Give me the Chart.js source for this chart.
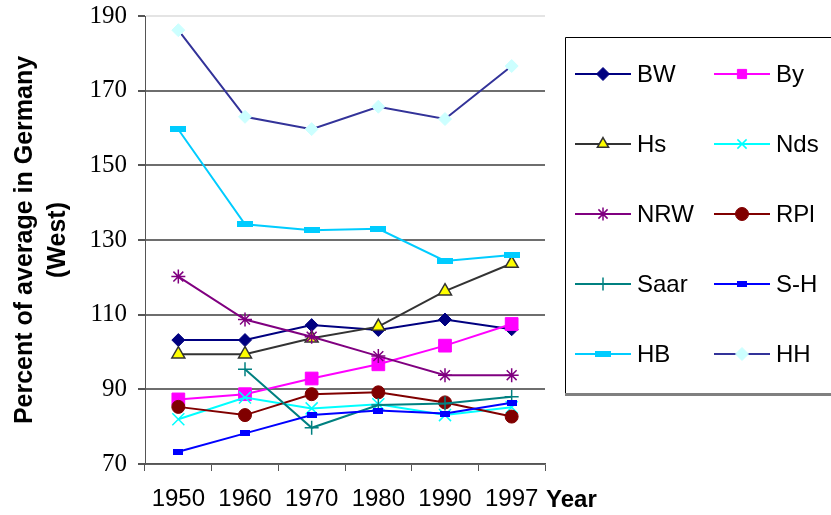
<!DOCTYPE html>
<html>
<head>
<meta charset="utf-8">
<script src="https://cdn.jsdelivr.net/npm/chart.js@4/dist/chart.umd.min.js"></script>
<style>
  html, body { margin: 0; padding: 0; background: #fff; }
  #wrap { width: 831px; height: 515px; position: relative; }
</style>
</head>
<body>
<div id="wrap"><canvas id="chart"></canvas></div>
<script>
// Daten (Prozent vom Durchschnitt, Westdeutschland)
const years = ['1950', '1960', '1970', '1980', '1990', '1997'];
const yTicks = [70, 90, 110, 130, 150, 170, 190];

const bw   = [103.2, 103.2, 107.2, 105.9, 108.7, 106.1];
const by   = [87.3, 88.7, 92.9, 96.7, 101.7, 107.5];
const hs   = [99.4, 99.4, 103.7, 106.8, 116.3, 123.7];
const nds  = [82.0, 87.8, 84.9, 86.0, 83.1, 85.2];
const nrw  = [120.2, 108.7, 104.1, 98.9, 93.8, 93.8];
const rpl  = [85.3, 83.1, 88.7, 89.2, 86.5, 82.7];
const saar = [null, 95.4, 79.7, 85.8, 86.2, 88.0];
const sh   = [73.3, 78.2, 83.1, 84.3, 83.5, 86.4];
const hb   = [159.6, 134.2, 132.6, 133.0, 124.4, 126.0];
const hh   = [186.2, 163.0, 159.7, 165.7, 162.4, 176.6];

// flache Rechteck-Marker (S-H, HB)
function barMarker(w, h, color) {
    const c = document.createElement('canvas');
    c.width = w;
    c.height = h;
    const g = c.getContext('2d');
    g.fillStyle = color;
    g.fillRect(0, 0, w, h);
    return c;
}

function series(label, data, line, style, radius, fill, border, bw) {
    return {
        label: label,
        data: data,
        borderColor: line,
        borderWidth: 2,
        tension: 0,
        pointStyle: style,
        pointRadius: radius,
        pointHoverRadius: radius,
        pointBackgroundColor: fill,
        pointBorderColor: border || fill,
        pointBorderWidth: bw || 1
    };
}

const datasets = [
    series('BW', bw, '#000080', 'rectRot', 6.5, '#000080'),
    series('By', by, '#FF00FF', 'rect', 9, '#FF00FF'),
    series('Hs', hs, '#333333', 'triangle', 7.5, '#FFFF00', '#333333', 1.5),
    series('Nds', nds, '#00FFFF', 'crossRot', 8.5, '#00FFFF', '#00FFFF', 1.5),
    series('NRW', nrw, '#800080', 'star', 7, '#800080', '#800080', 1.5),
    series('RPl', rpl, '#800000', 'circle', 6.5, '#800000'),
    series('Saar', saar, '#008080', 'cross', 7, '#008080', '#008080', 1.5),
    series('S-H', sh, '#0000FF', barMarker(10, 6, '#0000FF'), 5, '#0000FF'),
    series('HB', hb, '#00CCFF', barMarker(16, 6, '#00CCFF'), 8, '#00CCFF'),
    series('HH', hh, '#333399', 'rectRot', 6.5, '#CCFFFF')
];
// spätere Reihen oben zeichnen (wie Excel)
datasets.forEach(function(d, i) { d.order = datasets.length - i; });

// Legende im Kasten rechts + "Year" an der x-Achse
const boxLegend = {
    id: 'boxLegend',
    afterDraw: function(chart) {
        const ctx = chart.ctx;
        ctx.save();

        // Kasten
        ctx.strokeStyle = '#000';
        ctx.lineWidth = 1;
        ctx.beginPath();
        ctx.moveTo(565.5, 393);
        ctx.lineTo(565.5, 37.5);
        ctx.lineTo(831, 37.5);
        ctx.stroke();
        ctx.strokeStyle = '#808080';
        ctx.lineWidth = 3;
        ctx.beginPath();
        ctx.moveTo(565, 394.5);
        ctx.lineTo(831, 394.5);
        ctx.stroke();

        const ds = chart.data.datasets;
        const cols = [{ x0: 575, x1: 631, tx: 637 }, { x0: 714, x1: 770, tx: 776 }];
        ctx.font = '24px "Liberation Sans", Arial, sans-serif';
        ctx.textBaseline = 'middle';
        ctx.textAlign = 'left';
        for (let i = 0; i < ds.length; i++) {
            const col = cols[i % 2];
            const y = 74 + Math.floor(i / 2) * 70;
            const d = ds[i];
            ctx.strokeStyle = d.borderColor;
            ctx.lineWidth = 2;
            ctx.beginPath();
            ctx.moveTo(col.x0, y);
            ctx.lineTo(col.x1, y);
            ctx.stroke();

            ctx.fillStyle = d.pointBackgroundColor;
            ctx.strokeStyle = d.pointBorderColor;
            ctx.lineWidth = d.pointBorderWidth;
            Chart.helpers.drawPoint(ctx, {
                pointStyle: d.pointStyle,
                radius: Math.min(d.pointRadius, 6.5),
                rotation: 0,
                borderWidth: d.pointBorderWidth
            }, (col.x0 + col.x1) / 2, y);

            ctx.fillStyle = '#000';
            ctx.fillText(d.label, col.tx, y + 1);
        }

        ctx.font = 'bold 24px "Liberation Sans", Arial, sans-serif';
        ctx.fillStyle = '#000';
        ctx.fillText('Year', 546, 500);
        ctx.restore();
    }
};

new Chart(document.getElementById('chart'), {
    type: 'line',
    data: {
        labels: years,
        datasets: datasets
    },
    options: {
        responsive: true,
        maintainAspectRatio: false,
        animation: false,
        events: [],
        layout: {
            autoPadding: false,
            padding: { top: 16, right: 286, left: 0, bottom: 0 }
        },
        plugins: {
            legend: { display: false },
            tooltip: { enabled: false }
        },
        scales: {
            x: {
                type: 'category',
                offset: true,
                afterFit: function(scale) { scale.height = 51; },
                grid: {
                    offset: true,
                    drawOnChartArea: false,
                    drawTicks: true,
                    tickLength: 7,
                    color: '#555',
                    lineWidth: 1
                },
                border: { color: '#555', width: 1.5 },
                ticks: {
                    color: '#000',
                    padding: 14,
                    maxRotation: 0,
                    font: { family: '"Liberation Sans", Arial, sans-serif', size: 24 }
                }
            },
            y: {
                min: yTicks[0],
                max: yTicks[yTicks.length - 1],
                afterFit: function(scale) {
                    scale.width = 145;
                    scale.paddingTop = 0;
                    scale.paddingBottom = 0;
                },
                afterBuildTicks: function(scale) {
                    scale.ticks = yTicks.map(function(v) { return { value: v }; });
                },
                grid: {
                    color: function(c) {
                        return c.tick && c.tick.value === 190 ? '#e4e4e4' : '#6e6e6e';
                    },
                    tickColor: '#555',
                    lineWidth: 2,
                    tickLength: 7
                },
                border: { color: '#555', width: 1 },
                ticks: {
                    color: '#000',
                    padding: 11,
                    font: { family: '"Liberation Serif", "Times New Roman", serif', size: 25 }
                },
                title: {
                    display: true,
                    text: ['Percent of average in Germany', '(West)'],
                    color: '#000',
                    padding: { top: 9, bottom: 0 },
                    font: { family: '"Liberation Sans", Arial, sans-serif', size: 25, weight: 'bold', lineHeight: 1.32 }
                }
            }
        }
    },
    plugins: [boxLegend]
});
</script>
</body>
</html>
